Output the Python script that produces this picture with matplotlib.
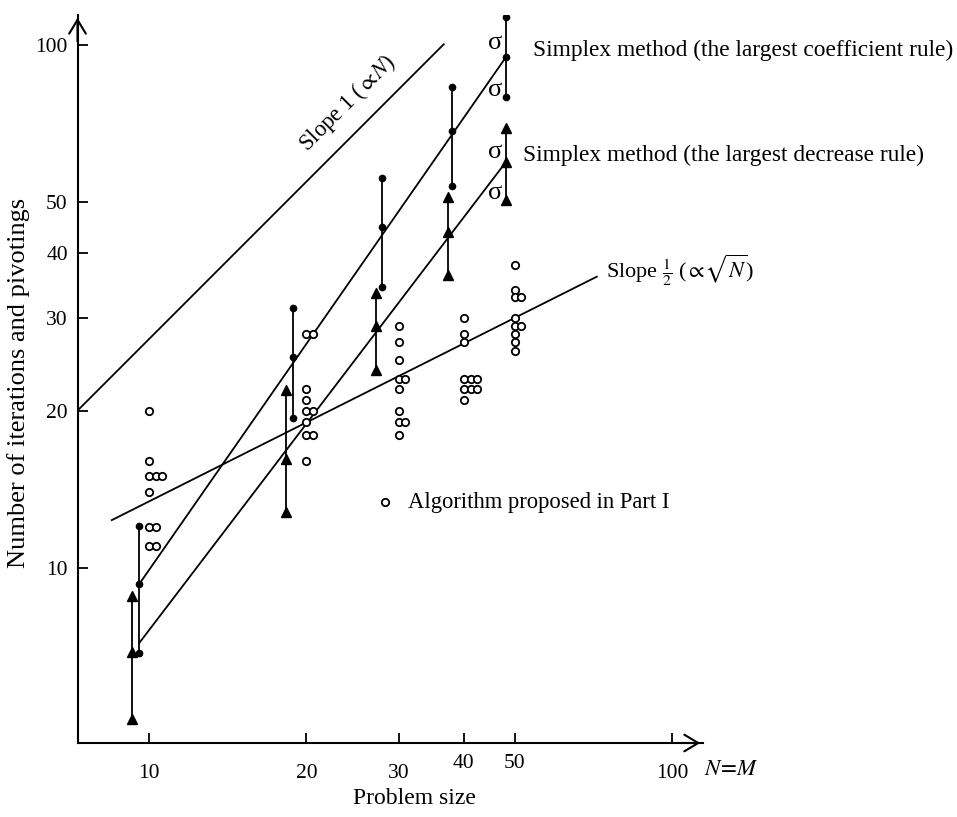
import matplotlib
matplotlib.use("Agg")
import matplotlib.pyplot as plt
from matplotlib.ticker import NullLocator
from matplotlib.transforms import ScaledTranslation
from collections import Counter

plt.rcParams['font.family'] = ['Liberation Serif', 'DejaVu Serif']
plt.rcParams['mathtext.fontset'] = 'stix'

# problem sizes
sizes = [10, 20, 30, 40, 50]
tick_vals = [10, 20, 30, 40, 50, 100]

# simplex, largest coefficient rule (dots): plotted N, mean, mean+sigma, mean-sigma
coef_N = [9.58, 18.83, 27.86, 38.0, 48.1]
coef_mean = [9.32, 25.35, 44.96, 68.5, 94.7]
coef_hi = [12.05, 31.4, 55.6, 83.0, 113.3]
coef_lo = [6.88, 19.33, 34.5, 53.8, 79.6]

# simplex, largest decrease rule (triangles)
decr_N = [9.27, 18.28, 27.2, 37.35, 48.1]
decr_mean = [6.92, 16.16, 29.06, 43.95, 59.7]
decr_hi = [8.84, 21.9, 33.5, 51.2, 69.3]
decr_lo = [5.14, 12.81, 23.9, 36.3, 50.5]

# fitted lines (end points)
coef_fit_N = [9.58, 48.1]
coef_fit_v = [9.32, 94.7]
decr_fit_N = [9.58, 48.1]
decr_fit_v = [7.19, 59.7]

# reference slopes
slope1_N = [7.30, 36.6]
slope1_v = [20.0, 100.3]
slope_half_N = [8.49, 71.8]
slope_half_v = [12.35, 36.06]

# algorithm proposed in Part I (10 runs per size)
alg_10 = [20, 16, 15, 15, 15, 14, 12, 12, 11, 11]
alg_20 = [28, 28, 22, 21, 20, 20, 19, 18, 18, 16]
alg_30 = [29, 27, 25, 23, 23, 22, 20, 19, 19, 18]
alg_40 = [30, 28, 27, 23, 23, 23, 22, 22, 22, 21]
alg_50 = [38, 34, 33, 33, 30, 29, 29, 28, 27, 26]
alg_runs = [alg_10, alg_20, alg_30, alg_40, alg_50]

fig = plt.figure(figsize=(9.57, 8.17), dpi=100)
ax = fig.add_axes([77.5/957, 74/817, 625.5/957, 728/817])
ax.set_xscale('log')
ax.set_yscale('log')
ax.set_xlim(7.30, 114.6)
ax.set_ylim(4.63, 114.1)

lw = 1.3
# reference slopes and fits
ax.plot(slope1_N, slope1_v, 'k-', lw=lw)
ax.plot(slope_half_N, slope_half_v, 'k-', lw=lw)
ax.plot(coef_fit_N, coef_fit_v, 'k-', lw=lw)
ax.plot(decr_fit_N, decr_fit_v, 'k-', lw=lw)

# error bars
ax.vlines(coef_N, coef_lo, coef_hi, colors='k', lw=lw)
for ys in (coef_lo, coef_mean, coef_hi):
    ax.plot(coef_N, ys, 'o', color='k', ms=4.5, ls='none')
ax.vlines(decr_N, decr_lo, decr_hi, colors='k', lw=lw)
for ys in (decr_lo, decr_mean, decr_hi):
    ax.plot(decr_N, ys, '^', color='k', ms=7.5, ls='none')

# open circles, repeated values shifted to the right
for n, runs in zip(sizes, alg_runs):
    seen = Counter()
    xs = []
    for v in runs:
        xs.append(n * 1.03 ** seen[v])
        seen[v] += 1
    ax.plot(xs, runs, 'o', mfc='white', mec='k', mew=1.3, ms=5.3, ls='none')

# annotations
ax.text(54.2, 97.8, 'Simplex method (the largest coefficient rule)', fontsize=16.8, va='center')
ax.text(51.9, 61.6, 'Simplex method (the largest decrease rule)', fontsize=16.8, va='center')
ax.text(74.8, 37.1, r'Slope $\frac{1}{2}$ ($\propto\!\sqrt{N}$)', fontsize=16, va='center')
ax.text(23.9, 77.5, r'Slope 1 ($\propto\!N$)', fontsize=16.5, va='center', ha='center',
        rotation=45, rotation_mode='anchor')
for v in (100.8, 82.0, 62.5, 52.1):
    ax.text(45.9, v, 'σ', fontsize=19, ha='center', va='center')
ax.plot([28.3], [13.37], 'o', mfc='white', mec='k', mew=1.3, ms=5.3)
ax.text(31.3, 13.37, 'Algorithm proposed in Part I', fontsize=16.3, va='center')

# axes styling
for s in ('top', 'right'):
    ax.spines[s].set_visible(False)
for s in ('left', 'bottom'):
    ax.spines[s].set_linewidth(1.5)
ax.set_xticks(tick_vals)
ax.set_xticklabels([str(t) for t in tick_vals])
ax.set_yticks(tick_vals)
ax.set_yticklabels([str(t) for t in tick_vals])
ax.xaxis.set_minor_locator(NullLocator())
ax.yaxis.set_minor_locator(NullLocator())
ax.tick_params(axis='both', direction='in', length=7, width=1.3, labelsize=15.5)
ax.tick_params(axis='x', pad=15)
ax.tick_params(axis='y', pad=7)
# the 40 and 50 labels sit a little higher in the original
for lab in ax.get_xticklabels()[3:5]:
    lab.set_transform(lab.get_transform() + ScaledTranslation(0, 7/72, fig.dpi_scale_trans))

arrow = dict(arrowstyle='->,head_length=0.5,head_width=0.3', lw=1.5, mutation_scale=20, color='k')
ax.annotate('', xy=(0, 1), xytext=(0, 0.96), xycoords='axes fraction', arrowprops=arrow,
            annotation_clip=False)
ax.annotate('', xy=(1, 0), xytext=(0.96, 0), xycoords='axes fraction', arrowprops=arrow,
            annotation_clip=False)

ax.text(1.002, -0.037, r'$N\!=\!M$', transform=ax.transAxes, fontsize=16.5, va='center')
fig.text(414/957, 1 - 798/817, 'Problem size', fontsize=17, ha='center', va='center')
fig.text(19/957, 1 - 383/817, 'Number of iterations and pivotings', fontsize=19,
         ha='center', va='center', rotation=90)

fig.savefig('out.png', dpi=100)
